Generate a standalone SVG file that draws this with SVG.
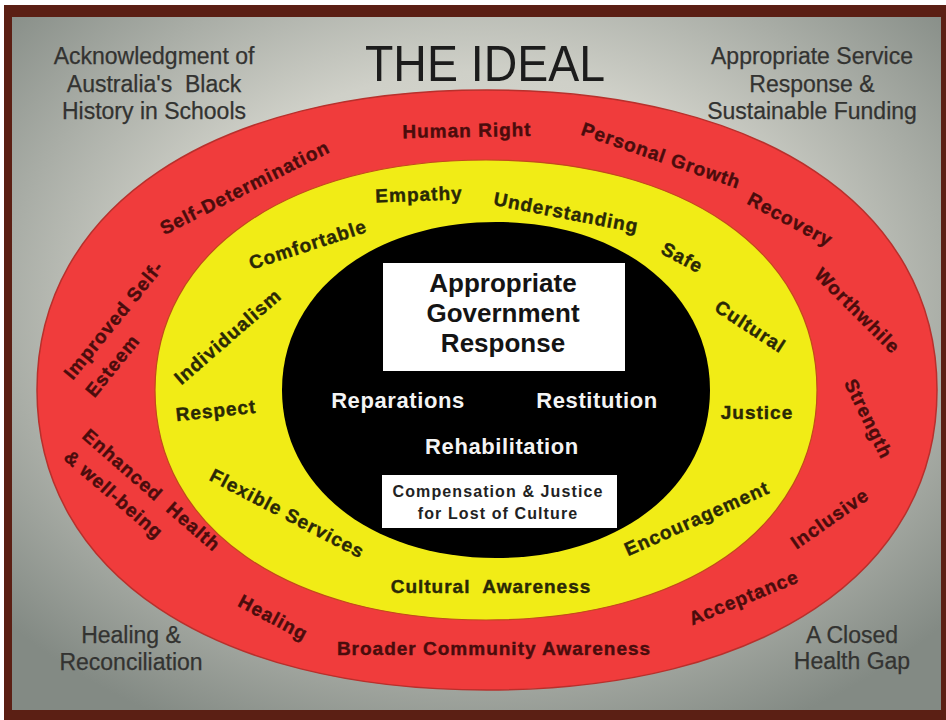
<svg xmlns="http://www.w3.org/2000/svg" width="946" height="720" viewBox="0 0 946 720">
<defs>
<radialGradient id="bg" cx="50%" cy="42%" r="68%">
<stop offset="0" stop-color="#e0e0d8"/>
<stop offset="0.5" stop-color="#cfd0c8"/>
<stop offset="1" stop-color="#838a84"/>
</radialGradient>
<style>
.corner{font-family:"Liberation Sans",Arial,sans-serif;font-size:23px;fill:#333331;stroke:#333331;stroke-width:0.25px;text-anchor:middle}
.title{font-family:"Liberation Sans",Arial,sans-serif;font-size:50px;fill:#1c1c1c;text-anchor:middle}
.rl{font-family:"Liberation Sans",Arial,sans-serif;font-size:19px;font-weight:bold;letter-spacing:1px;fill:#4a0c0c;stroke:#4a0c0c;stroke-width:0.4px;text-anchor:middle}
.yl{font-family:"Liberation Sans",Arial,sans-serif;font-size:19px;font-weight:bold;letter-spacing:1px;fill:#2a2806;stroke:#2a2806;stroke-width:0.4px;text-anchor:middle}
.st{text-anchor:start}
.wl{font-family:"Liberation Sans",Arial,sans-serif;font-size:22px;font-weight:bold;letter-spacing:0.6px;fill:#f4f4f4;text-anchor:middle}
.bx{font-family:"Liberation Sans",Arial,sans-serif;font-size:26px;font-weight:bold;fill:#141414;text-anchor:middle}
.sbx{font-family:"Liberation Sans",Arial,sans-serif;font-size:16px;font-weight:bold;letter-spacing:1.1px;fill:#222;text-anchor:middle}
</style>
</defs>
<rect x="0" y="0" width="946" height="720" fill="#ffffff"/>
<rect x="4" y="5" width="942" height="715" fill="#5b1f14"/>
<rect x="12" y="17" width="929" height="693" fill="url(#bg)"/>

<g id="corners">
<text class="corner"><tspan x="154" y="64">Acknowledgment of</tspan><tspan x="154" y="92">Australia's&#160; Black</tspan><tspan x="154" y="119">History in Schools</tspan></text>
<text class="corner"><tspan x="812" y="64">Appropriate Service</tspan><tspan x="812" y="92">Response &amp;</tspan><tspan x="812" y="119">Sustainable Funding</tspan></text>
<text class="corner"><tspan x="131" y="643">Healing &amp;</tspan><tspan x="131" y="670">Reconciliation</tspan></text>
<text class="corner"><tspan x="852" y="643">A Closed</tspan><tspan x="852" y="669">Health Gap</tspan></text>
</g>
<text id="title" class="title" x="485" y="81" textLength="240" lengthAdjust="spacingAndGlyphs">THE IDEAL</text>

<g id="outer-ring">
<path d="M 937 390 C 937 573 761.5 690 487 690 C 212.5 690 37 573 37 390 C 37 207 212.5 90 487 90 C 761.5 90 937 207 937 390 Z" fill="#f03c3c" stroke="#b8302c" stroke-width="1.5"/>
</g>
<g id="middle-ring">
<path d="M 817 390 C 817 528 684.6 620 486 620 C 287.4 620 155 528 155 390 C 155 252 287.4 160 486 160 C 684.6 160 817 252 817 390 Z" fill="#f1ec16" stroke="#c24a1c" stroke-width="1.2"/>
</g>
<g id="core">
<path d="M 710 390 C 710 487.4 620.1 558 496 558 C 371.9 558 282 487.4 282 390 C 282 292.6 371.9 222 496 222 C 620.1 222 710 292.6 710 390 Z" fill="#000000"/>
</g>

<g id="red-labels">
<g id="human-right" transform="translate(467,131) rotate(-1)"><text class="rl" y="6">Human Right</text></g>
<g id="personal-growth" transform="translate(661,156) rotate(19)"><text class="rl" y="6">Personal Growth</text></g>
<g id="recovery" transform="translate(790,220) rotate(28)"><text class="rl" y="6">Recovery</text></g>
<g id="worthwhile" transform="translate(857,311) rotate(45)"><text class="rl" y="6">Worthwhile</text></g>
<g id="strength" transform="translate(868,419) rotate(64)"><text class="rl" y="6">Strength</text></g>
<g id="inclusive" transform="translate(830,519) rotate(-35)"><text class="rl" y="6">Inclusive</text></g>
<g id="acceptance" transform="translate(744,598) rotate(-22)"><text class="rl" y="6">Acceptance</text></g>
<g id="broader"><text class="rl" x="494" y="655">Broader Community Awareness</text></g>
<g id="healing" transform="translate(273,618) rotate(28)"><text class="rl" y="6">Healing</text></g>
<g id="enhanced" transform="translate(85,433) rotate(41)"><text class="rl st"><tspan x="0" y="6">Enhanced&#160; Health</tspan><tspan x="0" y="34">&amp; well-being</tspan></text></g>
<g id="esteem" transform="translate(68,377) rotate(-51)"><text class="rl st"><tspan x="0" y="6">Improved Self-</tspan><tspan x="0" y="34">Esteem</tspan></text></g>
<g id="self-determination" transform="translate(245,188) rotate(-26.6)"><text class="rl" y="6">Self-Determination</text></g>
</g>

<g id="yellow-labels">
<g id="empathy" transform="translate(419,195) rotate(-2)"><text class="yl" y="6">Empathy</text></g>
<g id="understanding" transform="translate(566,213) rotate(11)"><text class="yl" y="6">Understanding</text></g>
<g id="safe" transform="translate(682,258) rotate(28)"><text class="yl" y="6">Safe</text></g>
<g id="cultural" transform="translate(750,327) rotate(33)"><text class="yl" y="6">Cultural</text></g>
<g id="justice"><text class="yl" x="757" y="419">Justice</text></g>
<g id="encouragement" transform="translate(697,519) rotate(-24)"><text class="yl" y="6">Encouragement</text></g>
<g id="cultural-awareness"><text class="yl" x="491" y="593">Cultural&#160; Awareness</text></g>
<g id="flexible" transform="translate(287,514) rotate(27.5)"><text class="yl" y="6">Flexible Services</text></g>
<g id="respect" transform="translate(216,411) rotate(-6)"><text class="yl" y="6">Respect</text></g>
<g id="individualism" transform="translate(228,337) rotate(-41)"><text class="yl" y="6">Individualism</text></g>
<g id="comfortable" transform="translate(308,245) rotate(-18)"><text class="yl" y="6">Comfortable</text></g>
</g>

<g id="government-box">
<rect x="383" y="263" width="242" height="108" fill="#ffffff"/>
<text class="bx"><tspan x="503" y="292">Appropriate</tspan><tspan x="503" y="322">Government</tspan><tspan x="503" y="352">Response</tspan></text>
</g>
<g id="core-labels">
<text class="wl" x="398" y="408">Reparations</text>
<text class="wl" x="597" y="408">Restitution</text>
<text class="wl" x="502" y="454">Rehabilitation</text>
</g>
<g id="compensation-box">
<rect x="382" y="475" width="235" height="53" fill="#ffffff"/>
<text class="sbx"><tspan x="498" y="497">Compensation &amp; Justice</tspan><tspan x="498" y="519">for Lost of Culture</tspan></text>
</g>
</svg>
